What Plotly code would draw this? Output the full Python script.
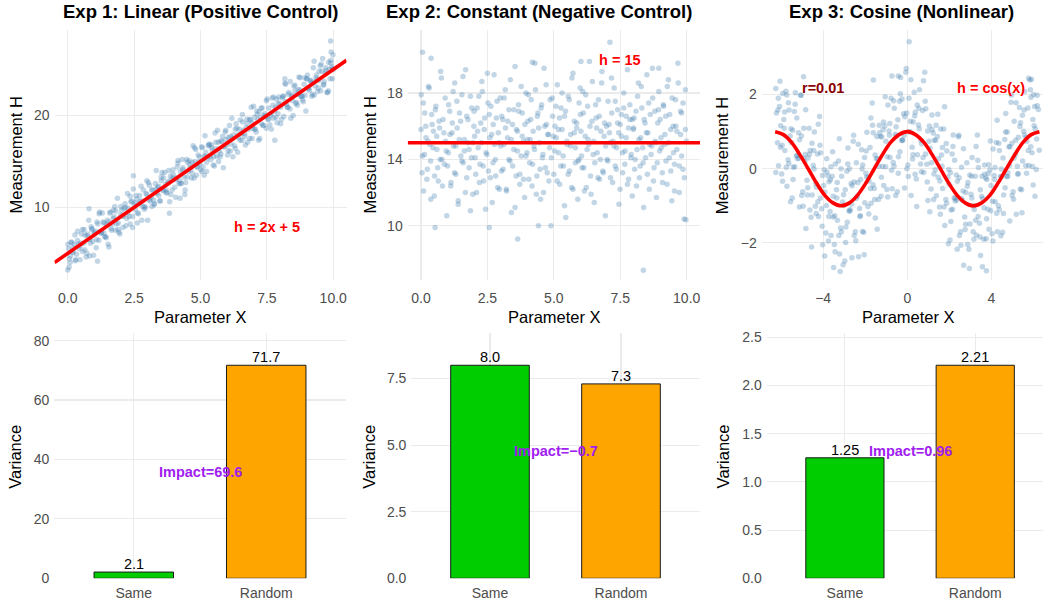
import plotly.graph_objects as go

W, H = 1043, 609

# ---------------- data: Exp 1 (linear) ----------------
lin_x = [0.03, 0.09, 0.15, 0.2, 0.27, 0.33, 0.4, 0.46, 0.52, 0.6, 0.65, 0.72, 0.79, 0.85, 0.9, 0.97, 1.04, 1.1, 1.17, 1.22, 1.3, 1.36, 1.42, 1.49, 1.55, 1.61, 1.68, 1.74, 1.8, 1.87,
         1.93, 2.0, 2.06, 2.12, 2.19, 2.25, 2.31, 2.38, 2.44, 2.5, 2.57, 2.63, 2.7, 2.76, 2.82, 2.88, 2.95, 3.01, 3.07, 3.14, 3.2, 3.27, 3.33, 3.39, 3.46, 3.52, 3.58, 3.65, 3.71, 3.77,
         3.84, 3.9, 3.96, 4.03, 4.09, 4.15, 4.22, 4.28, 4.34, 4.41, 4.47, 4.53, 4.6, 4.66, 4.72, 4.79, 4.85, 4.91, 4.98, 5.04, 5.1, 5.17, 5.23, 5.29, 5.36, 5.42, 5.48, 5.55, 5.61, 5.67,
         5.74, 5.8, 5.86, 5.93, 5.99, 6.05, 6.12, 6.18, 6.24, 6.31, 6.37, 6.43, 6.5, 6.56, 6.62, 6.69, 6.75, 6.81, 6.88, 6.94, 7.0, 7.07, 7.13, 7.19, 7.26, 7.32, 7.38, 7.45, 7.51, 7.57,
         7.64, 7.7, 7.76, 7.83, 7.89, 7.95, 8.02, 8.08, 8.14, 8.21, 8.27, 8.33, 8.4, 8.46, 8.52, 8.59, 8.65, 8.71, 8.78, 8.84, 8.9, 8.97, 9.03, 9.09, 9.16, 9.22, 9.28, 9.35, 9.41, 9.47,
         9.53, 9.6, 9.66, 9.72, 9.79, 9.85, 9.91, 9.97, 10.0,
         0.06, 0.12, 0.18, 0.24, 0.3, 0.37, 0.43, 0.49, 0.56, 0.62, 0.69, 0.75, 0.82, 0.88, 0.94, 1.0, 1.07, 1.13, 1.2, 1.26, 1.33, 1.39, 1.45, 1.52, 1.58, 1.65, 1.71, 1.77, 1.84, 1.9,
         1.96, 2.03, 2.09, 2.16, 2.22, 2.28, 2.35, 2.41, 2.47, 2.54, 2.6, 2.66, 2.73, 2.79, 2.85, 2.92, 2.98, 3.04, 3.11, 3.17, 3.23, 3.3, 3.36, 3.42, 3.49, 3.55, 3.61, 3.68, 3.74, 3.8,
         3.87, 3.93, 3.99, 4.06, 4.12, 4.19, 4.25, 4.31, 4.38, 4.44, 4.5, 4.57, 4.63, 4.69, 4.76, 4.82, 4.88, 4.95, 5.01, 5.07, 5.14, 5.2, 5.26, 5.33, 5.39, 5.45, 5.52, 5.58, 5.64, 5.71,
         5.77, 5.83, 5.9, 5.96, 6.02, 6.09, 6.15, 6.21, 6.28, 6.34, 6.4, 6.47, 6.53, 6.59, 6.66, 6.72, 6.78, 6.85, 6.91, 6.97, 7.04, 7.1, 7.16, 7.23, 7.29, 7.35, 7.42, 7.48, 7.54, 7.61,
         7.67, 7.73, 7.8, 7.86, 7.92, 7.99, 8.05, 8.11, 8.18, 8.24, 8.3, 8.37, 8.43, 8.49, 8.56, 8.62, 8.68, 8.75, 8.81, 8.87, 8.94, 9.0, 9.06, 9.13, 9.19, 9.25, 9.32, 9.38, 9.44, 9.51,
         9.57, 9.63, 9.7, 9.76, 9.82, 9.88, 9.94, 9.99,
         0.01, 0.1, 0.19, 0.28, 0.37, 0.46, 0.55, 0.64, 0.73, 0.82, 0.91, 1.0, 1.09, 1.18, 1.27, 1.36, 1.45, 1.54, 1.63, 1.72, 1.81, 1.9, 1.99, 2.08, 2.17, 2.26, 2.35, 2.44,
         2.53, 2.62, 2.71, 2.8, 2.89, 2.98, 3.07, 3.16, 3.25, 3.34, 3.43, 3.52, 3.61, 3.7, 3.79, 3.88, 3.97, 4.06, 4.15, 4.24, 4.33, 4.42, 4.51, 4.6, 4.69, 4.78, 4.87, 4.96,
         5.05, 5.14, 5.23, 5.32, 5.41, 5.5, 5.59, 5.68, 5.77, 5.86, 5.95, 6.04, 6.13, 6.22, 6.31, 6.4, 6.49, 6.58, 6.67, 6.76, 6.85, 6.94, 7.03, 7.12, 7.21, 7.3, 7.39, 7.48,
         7.57, 7.66, 7.75, 7.84, 7.93, 8.02, 8.11, 8.2, 8.29, 8.38, 8.47, 8.56, 8.65, 8.74, 8.83, 8.92, 9.01, 9.1, 9.19, 9.28, 9.37, 9.46, 9.55, 9.64, 9.73, 9.82, 9.91, 9.98,
         0.0, 0.05, 0.8, 1.12, 2.47, 3.83, 4.23, 5.17, 7.8, 8.18, 9.9, 9.92]
lin_y = [5.5, 4.0, 6.2, 5.1, 7.0, 4.9, 6.0, 4.3, 7.1, 6.1, 7.0, 5.0, 8.6, 6.1, 7.6, 4.8, 7.4, 8.4, 6.4, 7.4, 9.4, 7.2, 6.8, 8.6, 5.7, 9.5, 8.2, 9.0, 7.5, 11.0,
         7.3, 10.1, 9.0, 9.9, 8.0, 11.5, 9.0, 10.6, 7.8, 10.3, 11.3, 9.4, 10.4, 12.3, 10.1, 9.8, 11.5, 8.6, 12.4, 11.1, 11.9, 10.4, 14.0, 12.2, 10.7, 12.9, 11.9, 13.8, 11.6, 12.7,
         10.6, 13.1, 14.1, 12.2, 13.2, 15.1, 12.9, 12.6, 14.3, 11.4, 15.2, 13.9, 14.7, 13.2, 16.7, 15.0, 13.5, 15.7, 14.7, 16.6, 14.4, 15.5, 13.9, 16.7, 15.6, 16.5, 14.6, 18.1, 15.6, 17.1,
         15.5, 17.2, 14.3, 18.2, 16.8, 17.6, 16.1, 19.7, 17.9, 16.4, 18.6, 17.6, 19.5, 17.3, 18.4, 16.8, 19.6, 18.5, 19.5, 17.5, 21.0, 18.5, 20.1, 17.3, 19.8, 20.8, 18.9, 19.9, 21.8, 19.6,
         20.0, 21.9, 19.7, 20.9, 19.2, 22.0, 20.9, 21.9, 19.9, 23.4, 20.9, 22.5, 19.7, 22.2, 23.2, 21.3, 22.3, 24.2, 22.1, 21.7, 23.4, 20.5, 24.4, 23.0, 23.8, 22.3, 25.9, 24.1, 22.6, 24.8,
         22.7, 26.2, 23.7, 25.2, 22.5, 25.0, 26.0, 24.0, 25.0,
         4.4, 6.2, 5.2, 6.0, 4.3, 7.4, 5.5, 6.1, 5.2, 7.6, 4.6, 7.1, 6.5, 7.9, 6.3, 7.3, 5.6, 8.2, 9.5, 7.2, 8.4, 6.8, 8.1, 6.0, 9.4, 7.5, 8.8, 10.1, 8.2, 7.6,
         7.1, 9.7, 9.1, 10.4, 8.8, 9.9, 8.2, 10.7, 12.0, 9.8, 10.9, 9.3, 10.7, 8.6, 11.9, 10.0, 11.4, 12.7, 10.7, 10.1, 10.8, 12.6, 11.5, 12.3, 10.7, 13.8, 11.8, 12.5, 11.6, 14.0,
         13.4, 11.9, 13.2, 11.1, 14.4, 12.6, 13.9, 15.2, 13.3, 12.7, 13.3, 15.1, 14.1, 14.9, 13.2, 16.3, 14.4, 15.0, 14.1, 16.5, 13.5, 16.0, 15.4, 16.8, 15.2, 16.2, 14.5, 17.1, 18.4, 16.1,
         15.8, 17.7, 16.6, 17.4, 15.7, 18.9, 16.9, 17.5, 16.7, 19.1, 16.0, 18.5, 18.0, 19.3, 17.7, 18.7, 17.1, 19.6, 20.9, 18.6, 19.8, 18.2, 19.5, 17.5, 20.8, 18.9, 20.2, 21.6, 19.6, 19.0,
         18.5, 21.1, 20.5, 21.8, 20.2, 21.3, 19.6, 22.1, 23.5, 21.2, 22.3, 20.7, 22.1, 20.0, 23.3, 21.4, 22.8, 24.1, 22.1, 21.5, 22.2, 24.0, 22.9, 23.8, 22.1, 25.2, 23.2, 23.9, 23.0, 25.4,
         24.8, 23.3, 24.6, 22.5, 25.8, 24.0, 25.3, 26.6,
         6.0, 4.7, 5.6, 4.2, 6.4, 5.8, 7.6, 5.4, 6.9, 4.7, 7.7, 7.1, 6.5, 9.3, 7.2, 8.3, 6.7, 8.4, 7.7, 9.7, 9.6, 8.3, 9.2, 7.8, 10.0, 9.4, 11.2, 9.0,
         10.5, 8.3, 11.3, 10.7, 10.1, 12.9, 10.8, 11.9, 10.3, 12.0, 11.3, 13.3, 13.2, 11.9, 12.8, 11.4, 13.6, 13.0, 14.8, 12.6, 14.1, 11.9, 14.9, 14.3, 13.7, 16.5, 14.4, 15.5,
         13.9, 15.6, 14.9, 16.9, 16.8, 15.5, 16.4, 15.0, 17.2, 16.6, 18.4, 16.2, 17.7, 15.5, 18.5, 17.9, 17.3, 20.1, 18.0, 19.1, 17.5, 19.2, 18.5, 20.5, 20.4, 19.1, 20.0, 18.6,
         20.8, 20.2, 22.0, 19.8, 21.3, 19.1, 22.1, 21.5, 20.9, 23.7, 21.6, 22.7, 21.1, 22.8, 22.1, 24.1, 24.0, 22.7, 23.6, 22.2, 24.4, 23.8, 25.6, 23.4, 24.9, 22.7, 25.7, 25.1,
         3.2, 3.5, 9.85, 4.15, 13.45, 9.35, 11.0, 17.8, 17.3, 24.0, 28.1, 26.9]
lin_line_x = [-0.5, 10.5]
lin_line_y = [4.0, 26.0]

# ---------------- data: Exp 2 (constant) ----------------
const_x = [0.01, 0.05, 0.1, 0.14, 0.19, 0.24, 0.28, 0.33, 0.37, 0.42, 0.47, 0.51, 0.56, 0.6, 0.65, 0.7, 0.74, 0.79, 0.83, 0.88, 0.93, 0.97,
           1.03, 1.08, 1.12, 1.17, 1.21, 1.26, 1.31, 1.35, 1.4, 1.44, 1.49, 1.54, 1.58, 1.63, 1.67, 1.72, 1.77, 1.81, 1.86, 1.9, 1.95, 1.99,
           2.02, 2.06, 2.11, 2.15, 2.2, 2.25, 2.29, 2.34, 2.38, 2.43, 2.48, 2.52, 2.57, 2.61, 2.66, 2.71, 2.75, 2.8, 2.84, 2.89, 2.94, 2.98,
           3.03, 3.08, 3.12, 3.17, 3.21, 3.26, 3.31, 3.35, 3.4, 3.44, 3.49, 3.54, 3.58, 3.63, 3.67, 3.72, 3.77, 3.81, 3.86, 3.9, 3.95, 3.99,
           4.02, 4.06, 4.11, 4.15, 4.2, 4.25, 4.29, 4.34, 4.38, 4.43, 4.48, 4.52, 4.57, 4.61, 4.66, 4.71, 4.75, 4.8, 4.84, 4.89, 4.94, 4.98,
           5.03, 5.08, 5.12, 5.17, 5.21, 5.26, 5.31, 5.35, 5.4, 5.44, 5.49, 5.54, 5.58, 5.63, 5.67, 5.72, 5.77, 5.81, 5.86, 5.9, 5.95, 5.99,
           6.02, 6.06, 6.11, 6.15, 6.2, 6.25, 6.29, 6.34, 6.38, 6.43, 6.48, 6.52, 6.57, 6.61, 6.66, 6.71, 6.75, 6.8, 6.84, 6.89, 6.94, 6.98,
           7.03, 7.08, 7.12, 7.17, 7.21, 7.26, 7.31, 7.35, 7.4, 7.44, 7.49, 7.54, 7.58, 7.63, 7.67, 7.72, 7.77, 7.81, 7.86, 7.9, 7.95, 7.99,
           8.02, 8.06, 8.11, 8.15, 8.2, 8.25, 8.29, 8.34, 8.38, 8.43, 8.48, 8.52, 8.57, 8.61, 8.66, 8.71, 8.75, 8.8, 8.84, 8.89, 8.94, 8.98,
           9.03, 9.08, 9.12, 9.17, 9.21, 9.26, 9.31, 9.35, 9.4, 9.44, 9.49, 9.54, 9.58, 9.63, 9.67, 9.72, 9.77, 9.81, 9.86, 9.9, 9.95, 9.99,
           0.0, 0.04, 0.09, 0.13, 0.18, 0.22, 0.27, 0.31, 0.36, 0.4, 0.45, 0.5, 0.54, 0.59, 0.63, 0.68, 0.72, 0.77, 0.81, 0.86, 0.91, 0.95,
           1.0, 1.04, 1.09, 1.13, 1.18, 1.22, 1.27, 1.31, 1.36, 1.4, 1.45, 1.5, 1.54, 1.59, 1.63, 1.68, 1.72, 1.77, 1.81, 1.86, 1.91, 1.95,
           2.0, 2.04, 2.09, 2.13, 2.18, 2.22, 2.27, 2.31, 2.36, 2.4, 2.45, 2.5, 2.54, 2.59, 2.63, 2.68, 2.72, 2.77, 2.81, 2.86, 2.91, 2.95,
           3.0, 3.04, 3.09, 3.13, 3.18, 3.22, 3.27, 3.31, 3.36, 3.4, 3.45, 3.5, 3.54, 3.59, 3.63, 3.68, 3.72, 3.77, 3.81, 3.86, 3.91, 3.95,
           4.0, 4.04, 4.09, 4.13, 4.18, 4.22, 4.27, 4.31, 4.36, 4.4, 4.45, 4.5, 4.54, 4.59, 4.63, 4.68, 4.72, 4.77, 4.81, 4.86, 4.91, 4.95,
           5.0, 5.04, 5.09, 5.13, 5.18, 5.22, 5.27, 5.31, 5.36, 5.4, 5.45, 5.5, 5.54, 5.59, 5.63, 5.68, 5.72, 5.77, 5.81, 5.86, 5.91, 5.95,
           6.0, 6.04, 6.09, 6.13, 6.18, 6.22, 6.27, 6.31, 6.36, 6.4, 6.45, 6.5, 6.54, 6.59, 6.63, 6.68, 6.72, 6.77, 6.81, 6.86, 6.91, 6.95,
           7.0, 7.04, 7.09, 7.13, 7.18, 7.22, 7.27, 7.31, 7.36, 7.4, 7.45, 7.5, 7.54, 7.59, 7.63, 7.68, 7.72, 7.77, 7.81, 7.86, 7.91, 7.95,
           8.0, 8.04, 8.09, 8.13, 8.18, 8.22, 8.27, 8.31, 8.36, 8.4, 8.45, 8.5, 8.54, 8.59, 8.63, 8.68, 8.72, 8.77, 8.81, 8.86, 8.91, 8.95,
           9.0, 9.04, 9.09, 9.13, 9.18, 9.22, 9.27, 9.31, 9.36, 9.4, 9.45, 9.5, 9.54, 9.59, 9.63, 9.68, 9.72, 9.77, 9.81, 9.86, 9.91, 9.95,
           0.06, 0.38, 4.19, 6.02, 7.11, 8.37, 3.64, 0.53, 2.57, 9.97, 4.42, 8.95]
const_y = [17.9, 14.2, 12.1, 16.8, 15.3, 13.4, 18.4, 14.9, 11.6, 16.1, 15.7, 13.0, 17.2, 14.6, 12.7, 15.9, 19.3, 14.0, 16.4, 13.7, 15.1, 10.6,
           14.4, 16.9, 12.4, 15.6, 18.1, 13.2, 14.8, 17.5, 11.3, 15.2, 16.3, 13.9, 19.0, 14.5, 12.0, 16.6, 15.0, 13.5, 17.8, 14.1, 11.9, 16.0,
           15.4, 13.1, 17.1, 14.7, 12.6, 16.2, 18.7, 13.6, 15.8, 11.0, 14.3, 17.4, 16.7, 12.9, 15.5, 13.8, 19.1, 14.0, 16.5, 12.3, 15.0, 17.7,
           13.3, 16.4, 14.9, 18.2, 12.2, 15.3, 17.0, 13.9, 10.8, 16.1, 14.6, 19.6, 13.0, 15.7, 17.3, 12.5, 14.2, 16.8, 15.1, 11.7, 18.0, 14.4,
           16.3, 12.8, 15.2, 17.6, 13.7, 14.8, 19.8, 11.9, 16.6, 15.9, 13.4, 17.1, 14.1, 12.0, 16.0, 18.5, 13.2, 15.5, 14.7, 10.0, 17.7, 15.4,
           14.5, 17.2, 12.7, 15.8, 16.5, 13.6, 18.0, 14.2, 11.2, 16.9, 15.1, 13.1, 17.6, 14.8, 12.3, 19.2, 15.6, 13.8, 16.2, 11.6, 14.0, 18.3,
           15.7, 13.5, 16.8, 12.1, 17.9, 14.6, 15.2, 19.9, 13.0, 16.3, 14.3, 11.4, 17.3, 15.9, 12.9, 16.6, 14.0, 18.6, 13.3, 15.4, 10.6, 16.0,
           13.9, 16.1, 15.0, 18.9, 12.6, 14.8, 17.5, 13.4, 16.2, 15.6, 12.2, 16.7, 14.4, 17.1, 13.7, 15.3, 19.4, 12.8, 16.4, 14.1, 11.8, 15.8,
           16.5, 14.0, 12.4, 17.8, 15.2, 13.6, 18.4, 14.7, 11.1, 16.2, 15.6, 13.1, 17.4, 14.9, 14.3, 19.5, 12.7, 16.9, 15.0, 13.8, 17.0, 14.5,
           15.3, 13.2, 17.3, 14.9, 16.6, 12.5, 18.8, 14.1, 15.8, 11.5, 16.0, 13.7, 17.6, 14.6, 19.8, 12.0, 15.5, 16.8, 13.4, 10.4, 18.2, 15.1,
           15.8, 13.2, 17.4, 14.3, 16.0, 12.8, 15.1, 18.3, 13.9, 16.7, 14.7, 11.8, 17.0, 15.4, 13.5, 16.3, 14.0, 18.9, 12.4, 15.6, 17.7, 14.5,
           13.6, 17.3, 15.5, 12.6, 16.2, 14.8, 18.6, 13.1, 15.9, 11.5, 16.8, 14.2, 17.9, 13.8, 15.2, 19.4, 12.9, 16.4, 14.6, 10.9, 17.1, 15.0,
           16.9, 14.1, 12.0, 15.7, 17.8, 13.7, 15.0, 18.1, 12.7, 16.5, 14.4, 19.2, 13.3, 15.3, 17.2, 11.4, 16.1, 14.9, 13.0, 17.5, 15.6, 12.2,
           14.8, 16.6, 13.4, 17.7, 15.9, 12.1, 16.3, 14.0, 18.8, 15.2, 13.6, 17.0, 11.1, 15.8, 14.5, 16.9, 13.1, 18.4, 15.4, 12.8, 16.1, 14.2,
           15.2, 17.9, 13.8, 16.4, 12.4, 15.7, 14.6, 18.2, 13.0, 16.8, 15.0, 11.6, 17.3, 14.3, 19.5, 13.5, 16.1, 15.5, 12.7, 17.6, 14.1, 16.6,
           13.1, 16.0, 15.3, 18.5, 14.4, 12.5, 17.1, 15.8, 13.6, 16.6, 10.5, 14.9, 17.8, 13.3, 15.5, 18.9, 12.2, 16.3, 14.7, 15.9, 13.9, 17.4,
           16.7, 14.2, 18.1, 13.5, 15.4, 12.3, 17.2, 14.9, 16.0, 11.9, 18.7, 15.1, 13.8, 16.5, 14.4, 17.6, 12.8, 15.7, 19.3, 13.2, 16.2, 14.8,
           14.0, 17.5, 15.6, 12.9, 16.8, 15.1, 18.3, 13.6, 14.7, 17.0, 11.3, 16.1, 15.4, 13.2, 18.0, 14.5, 16.6, 12.5, 15.9, 17.3, 14.3, 16.4,
           15.9, 13.4, 16.9, 14.6, 18.6, 12.9, 15.3, 17.1, 13.8, 16.4, 14.1, 19.1, 15.6, 12.2, 16.7, 14.8, 17.7, 13.5, 15.1, 11.7, 16.2, 18.1,
           16.4, 14.7, 12.6, 17.2, 15.5, 13.9, 18.4, 15.0, 16.7, 13.3, 17.7, 14.4, 12.1, 16.0, 15.7, 18.6, 13.6, 16.9, 14.2, 17.4, 12.9, 15.8,
           20.46, 20.1, 19.86, 19.9, 21.06, 7.32, 9.2, 9.9, 9.9, 10.36, 10.0, 19.5]
const_line_x = [-0.5, 10.5]
const_line_y = [15.0, 15.0]

# ---------------- data: Exp 3 (cosine) ----------------
cos_x = [-6.22, -6.12, -6.02, -5.92, -5.82, -5.72, -5.62, -5.52, -5.42, -5.32, -5.22, -5.12, -5.02, -4.92, -4.82, -4.72, -4.62, -4.52, -4.42, -4.32, -4.22, -4.12, -4.02, -3.92, -3.82,
         -3.72, -3.62, -3.52, -3.42, -3.32, -3.22, -3.12, -3.02, -2.92, -2.82, -2.72, -2.62, -2.52, -2.42, -2.32, -2.22, -2.12, -2.02, -1.92, -1.82, -1.72, -1.62, -1.52, -1.42, -1.32,
         -1.22, -1.12, -1.02, -0.92, -0.82, -0.72, -0.62, -0.52, -0.42, -0.32, -0.22, -0.12, -0.02, 0.08, 0.18, 0.28, 0.38, 0.48, 0.58, 0.68, 0.78, 0.88, 0.98, 1.08, 1.18,
         1.28, 1.38, 1.48, 1.58, 1.68, 1.78, 1.88, 1.98, 2.08, 2.18, 2.28, 2.38, 2.48, 2.58, 2.68, 2.78, 2.88, 2.98, 3.08, 3.18, 3.28, 3.38, 3.48, 3.58, 3.68,
         3.78, 3.88, 3.98, 4.08, 4.18, 4.28, 4.38, 4.48, 4.58, 4.68, 4.78, 4.88, 4.98, 5.08, 5.18, 5.28, 5.38, 5.48, 5.58, 5.68, 5.78, 5.88, 5.98, 6.08, 6.18,
         -6.17, -6.07, -5.97, -5.87, -5.77, -5.67, -5.57, -5.47, -5.37, -5.27, -5.17, -5.07, -4.97, -4.87, -4.77, -4.67, -4.57, -4.47, -4.37, -4.27, -4.17, -4.07, -3.97, -3.87, -3.77,
         -3.67, -3.57, -3.47, -3.37, -3.27, -3.17, -3.07, -2.97, -2.87, -2.77, -2.67, -2.57, -2.47, -2.37, -2.27, -2.17, -2.07, -1.97, -1.87, -1.77, -1.67, -1.57, -1.47, -1.37, -1.27,
         -1.17, -1.07, -0.97, -0.87, -0.77, -0.67, -0.57, -0.47, -0.37, -0.27, -0.17, -0.07, 0.03, 0.13, 0.23, 0.33, 0.43, 0.53, 0.63, 0.73, 0.83, 0.93, 1.03, 1.13, 1.23,
         1.33, 1.43, 1.53, 1.63, 1.73, 1.83, 1.93, 2.03, 2.13, 2.23, 2.33, 2.43, 2.53, 2.63, 2.73, 2.83, 2.93, 3.03, 3.13, 3.23, 3.33, 3.43, 3.53, 3.63, 3.73,
         3.83, 3.93, 4.03, 4.13, 4.23, 4.33, 4.43, 4.53, 4.63, 4.73, 4.83, 4.93, 5.03, 5.13, 5.23, 5.33, 5.43, 5.53, 5.63, 5.73, 5.83, 5.93, 6.03, 6.13, 6.23,
         -6.25, -6.15, -6.05, -5.95, -5.85, -5.75, -5.65, -5.55, -5.45, -5.35, -5.25, -5.15, -5.05, -4.95, -4.85, -4.75, -4.65, -4.55, -4.45, -4.35, -4.25, -4.15, -4.05, -3.95, -3.85,
         -3.75, -3.65, -3.55, -3.45, -3.35, -3.25, -3.15, -3.05, -2.95, -2.85, -2.75, -2.65, -2.55, -2.45, -2.35, -2.25, -2.15, -2.05, -1.95, -1.85, -1.75, -1.65, -1.55, -1.45, -1.35,
         -1.25, -1.15, -1.05, -0.95, -0.85, -0.75, -0.65, -0.55, -0.45, -0.35, -0.25, -0.15, -0.05, 0.05, 0.15, 0.25, 0.35, 0.45, 0.55, 0.65, 0.75, 0.85, 0.95, 1.05, 1.15,
         1.25, 1.35, 1.45, 1.55, 1.65, 1.75, 1.85, 1.95, 2.05, 2.15, 2.25, 2.35, 2.45, 2.55, 2.65, 2.75, 2.85, 2.95, 3.05, 3.15, 3.25, 3.35, 3.45, 3.55, 3.65,
         3.75, 3.85, 3.95, 4.05, 4.15, 4.25, 4.35, 4.45, 4.55, 4.65, 4.75, 4.85, 4.95, 5.05, 5.15, 5.25, 5.35, 5.45, 5.55, 5.65, 5.75, 5.85, 5.95, 6.05, 6.15,
         -6.13, -6.03, -5.93, -5.83, -5.73, -5.63, -5.53, -5.43, -5.33, -5.23, -5.13, -5.03, -4.93, -4.83, -4.73, -4.63, -4.53, -4.43, -4.33, -4.23, -4.13, -4.03, -3.93, -3.83, -3.73,
         -3.63, -3.53, -3.43, -3.33, -3.23, -3.13, -3.03, -2.93, -2.83, -2.73, -2.63, -2.53, -2.43, -2.33, -2.23, -2.13, -2.03, -1.93, -1.83, -1.73, -1.63, -1.53, -1.43, -1.33, -1.23,
         -1.13, -1.03, -0.93, -0.83, -0.73, -0.63, -0.53, -0.43, -0.33, -0.23, -0.13, -0.03, 0.07, 0.17, 0.27, 0.37, 0.47, 0.57, 0.67, 0.77, 0.87, 0.97, 1.07, 1.17, 1.27,
         1.37, 1.47, 1.57, 1.67, 1.77, 1.87, 1.97, 2.07, 2.17, 2.27, 2.37, 2.47, 2.57, 2.67, 2.77, 2.87, 2.97, 3.07, 3.17, 3.27, 3.37, 3.47, 3.57, 3.67, 3.77,
         3.87, 3.97, 4.07, 4.17, 4.27, 4.37, 4.47, 4.57, 4.67, 4.77, 4.87, 4.97, 5.07, 5.17, 5.27, 5.37, 5.47, 5.57, 5.67, 5.77, 5.87, 5.97, 6.07, 6.17, 6.27,
         0.09, -6.25, -1.61, -0.43, 3.76, -3.19, -3.5, 5.9, -4.93, 6.0]
cos_y = [1.50, 0.08, 1.16, 2.03, 0.49, -0.47, 1.58, 0.71, 0.04, 2.05, 0.27, 0.78, -0.72, 1.09, -1.61, 0.29, 0.49, -0.71, 0.99, -0.50, -1.29, 0.43, -2.05, -0.63, -0.09,
         -0.35, -1.80, -0.74, 0.13, -1.39, -2.30, -0.20, -0.99, -1.57, 0.56, -1.10, -0.46, -1.80, 0.16, -2.37, -0.29, 0.10, -0.92, 0.98, -0.33, -0.93, 0.97, -1.33, 0.27, 0.97,
         0.86, -0.45, 0.74, 1.72, 0.30, -0.54, 1.63, 0.88, 0.32, 2.46, 0.78, 1.40, 0.00, 1.90, -0.72, 1.26, 1.52, 0.38, 2.13, 0.67, -0.10, 1.62, -0.86, 0.55, 1.06,
         0.77, -0.73, 0.27, 1.07, -0.53, -1.53, 0.48, -0.42, -1.11, 0.91, -0.87, -0.34, -1.80, 0.04, -2.60, -0.64, -0.37, -1.49, 0.30, -1.10, -1.79, 0.03, -2.34, -0.80, -0.15,
         -0.29, -1.63, -0.45, 0.53, -0.89, -1.70, 0.49, -0.21, -0.71, 1.49, -0.11, 0.59, -0.72, 1.28, -1.23, 0.85, 1.24, 0.21, 2.08, 0.74, 0.09, 1.93, -0.44, 1.08, 1.70,
         0.70, 1.68, -0.14, 1.33, 2.09, 0.24, 0.88, -0.79, 1.54, 0.35, 0.97, 1.98, -0.62, 0.19, -0.31, 1.09, -1.31, 0.09, -1.01, 0.40, 1.41, -1.08, -0.45, -1.73, -0.19,
         -1.15, -0.20, -2.04, -0.57, 0.21, -1.60, -0.90, -2.49, -0.07, -1.14, -0.40, 0.74, -1.70, -0.74, -1.07, 0.51, -1.71, -0.12, -1.02, 0.57, 1.77, -0.53, 0.27, -0.83, 0.87,
         0.06, 1.15, -0.56, 1.02, 1.90, 0.17, 0.93, -0.62, 1.82, 0.76, 1.48, 2.60, 0.10, 1.00, 0.58, 2.06, -0.28, 1.18, 0.13, 1.57, 2.60, 0.12, 0.74, -0.55, 0.96,
         -0.03, 0.87, -1.03, 0.37, 1.07, -0.83, -0.22, -1.92, 0.40, -0.79, -0.17, 0.86, -1.70, -0.86, -1.30, 0.16, -2.17, -0.69, -1.70, -0.20, 0.91, -1.47, -0.74, -1.90, -0.25,
         -1.09, -0.03, -1.75, -0.18, 0.71, -1.00, -0.21, -1.71, 0.79, -0.21, 0.59, 1.79, -0.62, 0.38, 0.07, 1.65, -0.57, 1.01, 0.08, 1.64, 2.39, 0.43, 1.16, -0.02, 1.60,
         -0.10, 1.58, 2.36, 0.63, 1.09, 0.04, 1.78, -0.89, 1.04, 0.05, 1.37, 0.28, 1.98, -1.01, 0.39, -0.71, 0.39, -2.11, 0.49, -0.40, -0.89, 0.63, -1.55, -0.03, -0.99,
         -1.95, -0.30, 0.46, -1.27, -0.79, -1.80, 0.00, -2.59, -0.57, -1.44, 0.00, -0.96, 0.90, -1.94, -0.37, -1.29, -0.01, -2.32, 0.48, -0.23, -0.53, 1.17, -0.83, 0.87, 0.07,
         -0.74, 1.05, 1.94, 0.32, 0.90, -0.04, 1.83, -0.72, 1.32, 0.46, 1.88, 0.90, 2.70, -0.21, 1.28, 0.26, 1.42, -1.02, 1.63, 0.77, 0.30, 1.82, -0.36, 1.15, 0.16,
         -0.83, 0.77, 1.47, -0.33, 0.07, -1.03, 0.68, -2.02, -0.11, -1.09, 0.23, -0.84, 0.90, -2.06, -0.60, -1.64, -0.47, -2.69, -0.20, -1.00, -1.39, 0.23, -1.84, -0.20, -1.05,
         -1.89, -0.13, 0.75, -0.88, -0.29, -1.20, 0.69, -1.81, 0.29, -0.51, 0.99, 0.09, 1.98, -0.82, 0.77, -0.15, 1.14, -1.19, 1.58, 0.84, 0.49, 2.13, 0.06, 1.68, 0.80,
         1.90, 0.58, -0.34, 1.53, 1.99, 0.14, 1.08, -0.29, 1.74, 0.35, -1.03, 0.88, 0.28, 1.59, -0.51, -1.11, 0.69, -0.01, -1.21, 1.20, -0.79, -0.18, -2.35, 0.27, -1.29,
         0.05, -1.30, -2.24, -0.37, 0.81, -1.70, -0.70, -1.99, 0.13, -1.14, -2.40, -0.36, -0.80, 0.66, -1.27, -1.69, 0.30, -0.22, -1.22, 1.37, -0.43, 0.37, -1.63, 1.17, -0.23,
         1.26, 0.05, -0.76, 1.22, 2.50, 0.07, 1.13, -0.12, 2.02, 0.76, -0.52, 1.50, 1.00, 2.40, 0.38, -0.15, 1.72, 1.08, -0.08, 2.37, 0.40, 1.02, -1.16, 1.45, -0.14,
         1.17, -0.23, -1.23, 0.57, 1.67, -0.93, -0.02, -1.42, 0.60, -0.79, -2.17, -0.24, -0.80, 0.54, -1.50, -2.04, -0.17, -0.79, -1.90, 0.60, -1.29, -0.57, -2.64, 0.10, -1.35,
         0.11, -1.13, -1.95, 0.03, 1.31, -1.10, -0.01, -1.21, 0.99, -0.21, -1.41, 0.69, 0.28, 1.78, -0.13, -0.55, 1.44, 0.91, -0.12, 2.44, 0.59, 1.33, -0.74, 1.98, 0.50,
         3.42, 2.16, 2.39, 2.50, -2.75, -2.77, -2.66, 2.41, 2.48, 2.00]
cos_curve_x = [-6.28, -5.89, -5.50, -5.11, -4.71, -4.32, -3.93, -3.53, -3.14, -2.75, -2.36, -1.96, -1.57, -1.18, -0.79, -0.39, 0.0,
               0.39, 0.79, 1.18, 1.57, 1.96, 2.36, 2.75, 3.14, 3.53, 3.93, 4.32, 4.71, 5.11, 5.50, 5.89, 6.28]
cos_curve_y = [1.0, 0.92, 0.71, 0.38, 0.0, -0.38, -0.71, -0.92, -1.0, -0.92, -0.71, -0.38, 0.0, 0.38, 0.71, 0.92, 1.0,
               0.92, 0.71, 0.38, 0.0, -0.38, -0.71, -0.92, -1.0, -0.92, -0.71, -0.38, 0.0, 0.38, 0.71, 0.92, 1.0]

# ---------------- data: variance bars ----------------
bar_categories = ["Same", "Random"]
var_linear = [2.1, 71.7]
var_constant = [8.0, 7.3]
var_cosine = [1.25, 2.21]
labels_linear = ["2.1", "71.7"]
labels_constant = ["8.0", "7.3"]
labels_cosine = ["1.25", "2.21"]
impact_texts = ["Impact=69.6", "Impact=\u22120.7", "Impact=0.96"]
impact_y = [35.7, 4.78, 1.32]

titles = ["Exp 1: Linear (Positive Control)", "Exp 2: Constant (Negative Control)", "Exp 3: Cosine (Nonlinear)"]

# ---------------- styling ----------------
FONT = "Liberation Sans, Arial, Helvetica, sans-serif"
GRID = "#EBEBEB"
TICK = "#4D4D4D"
PT_COLOR = "rgba(70,130,180,0.33)"
BAR_COLORS = ["#00CD00", "#FFA500"]


def fx(px):
    return px / W


def fy(py):
    return 1 - py / H


fig = go.Figure()

marker = dict(color=PT_COLOR, size=5.5, line=dict(width=0))
fig.add_trace(go.Scatter(x=lin_x, y=lin_y, mode="markers", marker=marker, xaxis="x", yaxis="y", hoverinfo="skip"))
fig.add_trace(go.Scatter(x=lin_line_x, y=lin_line_y, mode="lines", line=dict(color="#FF0000", width=3.6), xaxis="x", yaxis="y"))
fig.add_trace(go.Scatter(x=const_x, y=const_y, mode="markers", marker=marker, xaxis="x2", yaxis="y2", hoverinfo="skip"))
fig.add_trace(go.Scatter(x=const_line_x, y=const_line_y, mode="lines", line=dict(color="#FF0000", width=3.6), xaxis="x2", yaxis="y2"))
fig.add_trace(go.Scatter(x=cos_x, y=cos_y, mode="markers", marker=marker, xaxis="x3", yaxis="y3", hoverinfo="skip"))
fig.add_trace(go.Scatter(x=cos_curve_x, y=cos_curve_y, mode="lines", line=dict(color="#FF0000", width=3.6, shape="spline", smoothing=1.0),
                         xaxis="x3", yaxis="y3"))

bar_sets = [(var_linear, labels_linear, "x4", "y4"),
            (var_constant, labels_constant, "x5", "y5"),
            (var_cosine, labels_cosine, "x6", "y6")]
for vals, labs, xa, ya in bar_sets:
    fig.add_trace(go.Bar(x=bar_categories, y=vals, width=0.6,
                         marker=dict(color=BAR_COLORS, line=dict(color="#1A1A1A", width=1)),
                         xaxis=xa, yaxis=ya, hoverinfo="skip"))

base_ax = dict(showgrid=True, gridcolor=GRID, gridwidth=1.1, zeroline=False, showline=False, ticks="",
               automargin=False, tickfont=dict(size=14, color=TICK, family=FONT), fixedrange=True)
xtop = dict(base_ax, ticklabelstandoff=8)
xbot = dict(base_ax, ticklabelstandoff=5)
yax = dict(base_ax, ticklabelstandoff=4)

top_dom = [fy(280), fy(30)]
bot_dom = [fy(578.3), fy(333.3)]

layout = dict(
    width=W, height=H, margin=dict(l=0, r=0, t=0, b=0, pad=0, autoexpand=False), showlegend=False,
    paper_bgcolor="white", plot_bgcolor="white", font=dict(family=FONT), bargap=0.4,
    xaxis=dict(xtop, domain=[fx(54.5), fx(346.5)], anchor="y", range=[-0.5, 10.5],
               tickvals=[0, 2.5, 5, 7.5, 10], ticktext=["0.0", "2.5", "5.0", "7.5", "10.0"]),
    yaxis=dict(yax, domain=top_dom, anchor="x", range=[2.1, 29.3], tickvals=[10, 20]),
    xaxis2=dict(xtop, domain=[fx(407.7), fx(700)], anchor="y2", range=[-0.5, 10.5],
                tickvals=[0, 2.5, 5, 7.5, 10], ticktext=["0.0", "2.5", "5.0", "7.5", "10.0"]),
    yaxis2=dict(yax, domain=top_dom, anchor="x2", range=[6.73, 21.8], tickvals=[10, 14, 18]),
    xaxis3=dict(xtop, domain=[fx(761.7), 1.0], anchor="y3", range=[-6.92, 6.45], tickvals=[-4, 0, 4]),
    yaxis3=dict(yax, domain=top_dom, anchor="x3", range=[-3.0, 3.74], tickvals=[-2, 0, 2]),
    xaxis4=dict(xbot, domain=[fx(54.3), fx(345.7)], anchor="y4", type="category", range=[-0.6, 1.6]),
    yaxis4=dict(yax, domain=bot_dom, anchor="x4", range=[0, 82.46], tickvals=[0, 20, 40, 60, 80]),
    xaxis5=dict(xbot, domain=[fx(411.4), fx(699.6)], anchor="y5", type="category", range=[-0.6, 1.6]),
    yaxis5=dict(yax, domain=bot_dom, anchor="x5", range=[0, 9.2], tickvals=[0, 2.5, 5, 7.5],
                ticktext=["0.0", "2.5", "5.0", "7.5"]),
    xaxis6=dict(xbot, domain=[fx(766.7), 1.0], anchor="y6", type="category", range=[-0.6, 1.52]),
    yaxis6=dict(yax, domain=bot_dom, anchor="x6", range=[0, 2.5415], tickvals=[0, 0.5, 1, 1.5, 2, 2.5],
                ticktext=["0.0", "0.5", "1.0", "1.5", "2.0", "2.5"]),
)
fig.update_layout(**layout)

ann = []
# subplot titles
for t, cx in zip(titles, [201, 539, 901]):
    ann.append(dict(text=f"<b>{t}</b>", x=fx(cx), y=fy(12), xref="paper", yref="paper", showarrow=False,
                    xanchor="center", yanchor="middle", font=dict(size=18.5, color="#000000", family=FONT)))
# axis titles
for cx in [16, 370, 722.7]:
    ann.append(dict(text="Measurement H", x=fx(cx), y=fy(155.5), xref="paper", yref="paper", showarrow=False,
                    textangle=-90, xanchor="center", yanchor="middle", font=dict(size=16.5, color="#000000", family=FONT)))
for cx in [200, 554, 908]:
    ann.append(dict(text="Parameter X", x=fx(cx), y=fy(316.7), xref="paper", yref="paper", showarrow=False,
                    xanchor="center", yanchor="middle", font=dict(size=16.5, color="#000000", family=FONT)))
for cx in [15, 369, 722.7]:
    ann.append(dict(text="Variance", x=fx(cx), y=fy(456.7), xref="paper", yref="paper", showarrow=False,
                    textangle=-90, xanchor="center", yanchor="middle", font=dict(size=16.5, color="#000000", family=FONT)))
# bar value labels
for vals, labs, xa, ya in bar_sets:
    for cat, v, lab in zip(bar_categories, vals, labs):
        ann.append(dict(text=lab, x=cat, y=v, xref=xa, yref=ya, showarrow=False, xanchor="center",
                        yanchor="bottom", yshift=-2, font=dict(size=14.5, color="#000000", family=FONT)))
# in-panel labels
ann.append(dict(text="<b>h = 2x + 5</b>", x=7.5, y=7.9, xref="x", yref="y", showarrow=False,
                font=dict(size=14.5, color="#FF0000", family=FONT)))
ann.append(dict(text="<b>h = 15</b>", x=7.5, y=20.0, xref="x2", yref="y2", showarrow=False,
                font=dict(size=14.5, color="#FF0000", family=FONT)))
ann.append(dict(text="<b>r=0.01</b>", x=-4.0, y=2.18, xref="x3", yref="y3", showarrow=False,
                font=dict(size=14.5, color="#8B0000", family=FONT)))
ann.append(dict(text="<b>h = cos(x)</b>", x=4.0, y=2.18, xref="x3", yref="y3", showarrow=False,
                font=dict(size=14.5, color="#FF0000", family=FONT)))
for txt, yv, xa, ya in zip(impact_texts, impact_y, ["x4", "x5", "x6"], ["y4", "y5", "y6"]):
    ann.append(dict(text=f"<b>{txt}</b>", x=0.5, y=yv, xref=xa, yref=ya, showarrow=False,
                    font=dict(size=14.5, color="#A020F0", family=FONT)))

fig.update_layout(annotations=ann)

fig.write_html("out.html", config={"displayModeBar": False, "staticPlot": True},
               post_script="document.body.style.margin='0px';document.body.style.padding='0px';")
